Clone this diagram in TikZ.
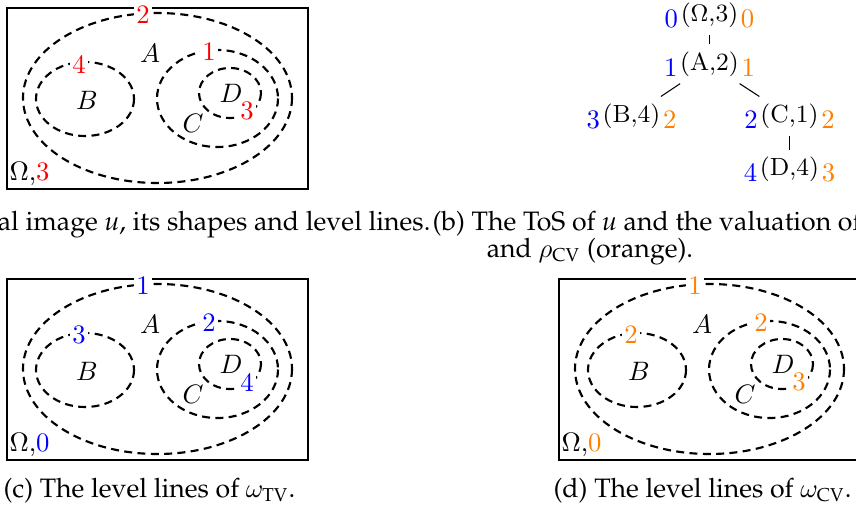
\documentclass[tikz,border=0pt]{standalone}
\usepackage[T1,TU]{fontenc}
\usepackage{amsmath}
\usepackage{xcolor}
\usepackage{tikz}
\usetikzlibrary{positioning}

\tikzset{
    levelline/.style={thick, dash pattern=on 3pt off 2pt},
    levelval/.style={fill=white, inner sep=0.8pt},
    shapename/.style={inner sep=1pt},
    tosnode/.style={inner sep=2.5pt, font=\fontsize{9.3}{11}\selectfont},
    tvnum/.style={text=blue, inner sep=0pt, anchor=base east},
    cvnum/.style={text=orange, inner sep=0pt, anchor=base west},
    subcap/.style={font=\fontsize{10}{12}\fontencoding{T1}\fontfamily{ppl}\selectfont, inner sep=0pt, anchor=base west}
}

% #1 prefix, #2 shift, #3 colour, #4 value of Omega, #5 A, #6 B, #7 C, #8 D
\newcommand{\levelpanel}[8]{%
\begin{scope}[shift={#2}, name prefix=#1-]
    \draw (7,8) rectangle (308,189);
    \draw[levelline] (157.5,98) ellipse [x radius=134.5, y radius=85];
    \draw[levelline] (85,99) ellipse [x radius=49, y radius=37];
    \draw[levelline] (217.5,98.5) ellipse [x radius=60.5, y radius=48.5];
    \draw[levelline] (230,93) ellipse [x radius=31, y radius=25];
    \node[shapename] (A) at (150,53) {$A$};
    \node[shapename] (B) at (87,100) {$B$};
    \node[shapename] (C) at (193,123) {$C$};
    \node[shapename] (D) at (231,93) {$D$};
    \node[levelval, text=#3] (lA) at (143,15) {#5};
    \node[levelval, text=#3] (lB) at (79,64) {#6};
    \node[levelval, text=#3] (lC) at (209,52) {#7};
    \node[levelval, text=#3] (lD) at (247,111) {#8};
    \node[inner sep=0pt, anchor=base west] (om) at (9,180) {$\Omega$,\textcolor{#3}{#4}};
\end{scope}}

\begin{document}
\begin{tikzpicture}[x=0.375pt, y=-0.375pt, font=\fontsize{10}{12}\selectfont]
    \useasboundingbox (0,0) rectangle (856,514);
    \clip (0,0) rectangle (856,514);

    \levelpanel{a}{(0,0)}{red}{3}{2}{4}{1}{3}
    \levelpanel{c}{(0,271)}{blue}{0}{1}{3}{2}{4}
    \levelpanel{d}{(552,271)}{orange}{0}{1}{2}{2}{3}

    \begin{scope}[on grid]
    \node[tosnode] (tOm) at (709.5,15) {($\Omega$,3)};
    \node[tosnode] (tA) [below=18.4pt of tOm] {(A,2)};
    \node[tosnode] (tB) [below left=19.5pt and 29.25pt of tA] {(B,4)};
    \node[tosnode] (tC) [below right=19.5pt and 30pt of tA] {(C,1)};
    \node[tosnode] (tD) [below=19.9pt of tC] {(D,4)};
    \end{scope}

    \draw (tOm) -- (tA);
    \draw (tA) -- (tB);
    \draw (tA) -- (tC);
    \draw (tC) -- (tD);

    \node[tvnum] (tOm-tv) at ([shift={(5,6)}]tOm.base west) {0};
    \node[cvnum] (tOm-cv) at ([shift={(-5,6)}]tOm.base east) {0};
    \node[tvnum] (tA-tv) at ([shift={(5,6)}]tA.base west) {1};
    \node[cvnum] (tA-cv) at ([shift={(-5,6)}]tA.base east) {1};
    \node[tvnum] (tB-tv) at ([shift={(5,6)}]tB.base west) {3};
    \node[cvnum] (tB-cv) at ([shift={(-5,6)}]tB.base east) {2};
    \node[tvnum] (tC-tv) at ([shift={(5,6)}]tC.base west) {2};
    \node[cvnum] (tC-cv) at ([shift={(-5,6)}]tC.base east) {2};
    \node[tvnum] (tD-tv) at ([shift={(5,6)}]tD.base west) {4};
    \node[cvnum] (tD-cv) at ([shift={(-5,6)}]tD.base east) {3};

    \node[subcap, anchor=base east] (capa) at (431,230) {al image {\itshape u}, its shapes and level lines.};
    \node[subcap] (capb) at (432,230) {(b) The ToS of {\itshape u} and the valuation of};
    \node[subcap, anchor=base] (capb2) at (590,257) {and $\rho_{\text{CV}}$ (orange).};
    \node[subcap] (capc) at (3,497) {(c) The level lines of $\omega_{\text{TV}}$.};
    \node[subcap] (capd) at (553,497) {(d) The level lines of $\omega_{\text{CV}}$.};
\end{tikzpicture}
\end{document}
